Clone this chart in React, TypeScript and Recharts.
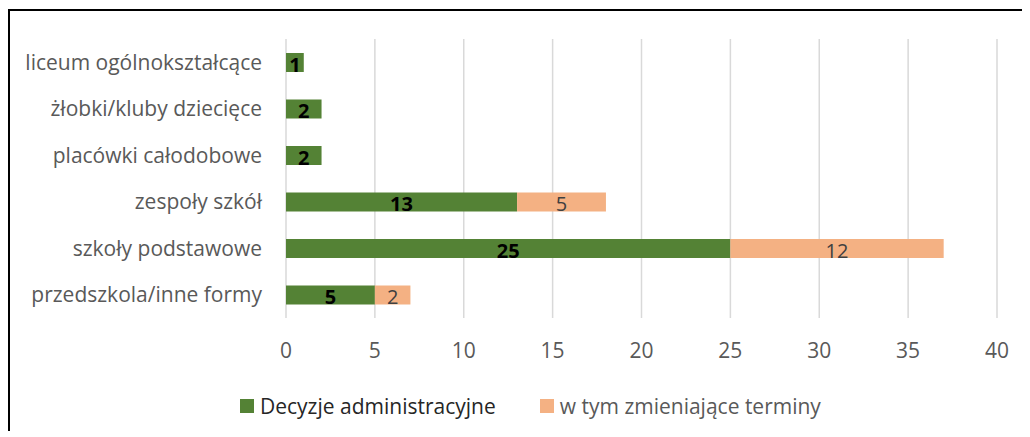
import React from 'react'
import { BarChart, Bar, XAxis, YAxis, CartesianGrid, Legend, LabelList } from 'recharts'

const categories = [
  'liceum ogólnokształcące',
  'żłobki/kluby dziecięce',
  'placówki całodobowe',
  'zespoły szkół',
  'szkoły podstawowe',
  'przedszkola/inne formy',
]
const decyzje = [1, 2, 2, 13, 25, 5]
const zmieniajace = [0, 0, 0, 5, 12, 2]
const xTicks = [0, 5, 10, 15, 20, 25, 30, 35, 40]

const GREEN = '#548235'
const ORANGE = '#F4B183'
const FONT = '"Open Sans", sans-serif'

const data = categories.map((name, i) => ({
  name,
  decyzje: decyzje[i],
  zmieniajace: zmieniajace[i],
}))

const LegendBox = () => (
  <div style={{ display: 'flex', alignItems: 'center', paddingLeft: 230, fontFamily: FONT, fontSize: 21 }}>
    <span style={{ width: 14, height: 14, background: GREEN, display: 'inline-block', marginRight: 6 }} />
    <span style={{ color: '#262626' }}>Decyzje administracyjne</span>
    <span style={{ width: 14, height: 14, background: ORANGE, display: 'inline-block', marginLeft: 44, marginRight: 6 }} />
    <span style={{ color: '#595959' }}>w tym zmieniające terminy</span>
  </div>
)

export default function App() {
  return (
    <div
      style={{
        marginTop: 1,
        width: 1020,
        height: 420,
        borderTop: '2px solid #000',
        borderLeft: '2px solid #000',
        background: '#fff',
      }}
    >
      <BarChart
        width={1010}
        height={418}
        data={data}
        layout="vertical"
        barSize={19}
        margin={{ top: 28, right: 23, left: 0, bottom: 7 }}
      >
        <CartesianGrid horizontal={false} stroke="#d9d9d9" strokeWidth={1.5} />
        <XAxis
          type="number"
          domain={[0, 40]}
          ticks={xTicks}
          axisLine={false}
          tickLine={false}
          tickSize={0}
          tickMargin={25}
          height={74}
          tick={{ fill: '#595959', fontSize: 21, fontFamily: FONT }}
        />
        <YAxis
          type="category"
          dataKey="name"
          width={276}
          axisLine={false}
          tickLine={false}
          tickSize={0}
          tickMargin={24}
          tick={{ fill: '#595959', fontSize: 21, fontFamily: FONT }}
        />
        <Legend verticalAlign="bottom" height={30} wrapperStyle={{ left: 0, width: 1010 }} content={<LegendBox />} />
        <Bar dataKey="decyzje" stackId="a" fill={GREEN} isAnimationActive={false}>
          <LabelList
            dataKey="decyzje"
            position="center"
            fill="#000"
            dy={2}
            style={{ fontWeight: 700, fontSize: 20, fontFamily: FONT }}
          />
        </Bar>
        <Bar dataKey="zmieniajace" stackId="a" fill={ORANGE} isAnimationActive={false}>
          <LabelList
            dataKey="zmieniajace"
            position="center"
            fill="#404040"
            dy={2}
            formatter={(v: any) => (v ? v : '')}
            style={{ fontSize: 20, fontFamily: FONT }}
          />
        </Bar>
      </BarChart>
    </div>
  )
}
